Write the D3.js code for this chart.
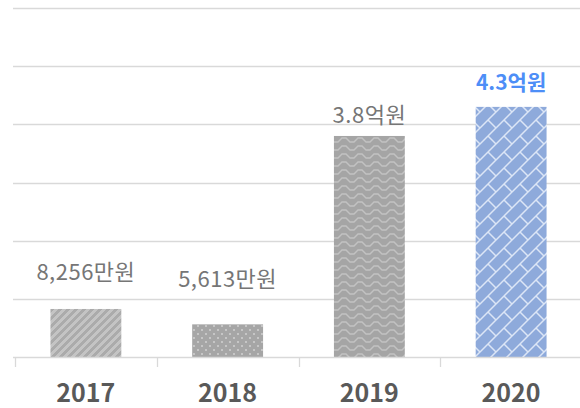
<!doctype html>
<html lang="ko">
<head>
    <meta charset="UTF-8">
    <title>연도별 금액</title>
    <script src="https://d3js.org/d3.v7.min.js"></script>
    <style>
      body { margin: 0; background: #fff; }
      svg { display: block; }
    </style>
</head>
<body>
    <div id="chart"></div>

    <script>

      // Data (values in 억원)
      const years = ['2017', '2018', '2019', '2020'];
      const values = [0.8256, 0.5613, 3.8, 4.3];
      const valueLabels = ['8,256만원', '5,613만원', '3.8억원', '4.3억원'];
      const yTicks = [0, 1, 2, 3, 4, 5, 6];

      // label baseline distance above bar top (as placed in the original)
      const labelGap = [29, 37, 13, 17];

      const width = 580;
      const height = 408;

      const svg = d3.select('#chart')
          .append('svg')
          .attr('width', width)
          .attr('height', height);

      const x = d3.scaleBand()
          .domain(years)
          .range([15, 582])
          .paddingInner(0.5)
          .paddingOuter(0.25);

      const y = d3.scaleLinear()
          .domain([0, 6])
          .range([357, 8]);

      // Patterns
      const defs = svg.append('defs');

      // 2017 - wide upward diagonal
      const p1 = defs.append('pattern')
          .attr('id', 'pat0')
          .attr('patternUnits', 'userSpaceOnUse')
          .attr('width', 8).attr('height', 8);
      p1.append('rect').attr('width', 8).attr('height', 8).attr('fill', '#c4c4c4');
      for (let i = 0; i < 8; i++) {
        // staircase band rising to the right
        const row = 7 - i;
        for (let k = 0; k < 4; k++) {
          p1.append('rect')
              .attr('x', (i + k) % 8).attr('y', row)
              .attr('width', 1).attr('height', 1)
              .attr('fill', '#ababab');
        }
      }

      // 2018 - dots
      const p2 = defs.append('pattern')
          .attr('id', 'pat1')
          .attr('patternUnits', 'userSpaceOnUse')
          .attr('width', 8).attr('height', 8);
      p2.append('rect').attr('width', 8).attr('height', 8).attr('fill', '#a6a6a6');
      p2.append('rect').attr('x', 1).attr('y', 1).attr('width', 2).attr('height', 2).attr('fill', '#c6c6c6');
      p2.append('rect').attr('x', 5).attr('y', 5).attr('width', 2).attr('height', 2).attr('fill', '#c6c6c6');

      // 2019 - wave
      const p3 = defs.append('pattern')
          .attr('id', 'pat2')
          .attr('patternUnits', 'userSpaceOnUse')
          .attr('width', 16).attr('height', 8);
      p3.append('rect').attr('width', 16).attr('height', 8).attr('fill', '#a5a5a5');
      p3.append('path')
          .attr('d', 'M0,6 L2,6 L6,2 L10,2 L14,6 L16,6')
          .attr('fill', 'none')
          .attr('stroke', '#c2c2c2')
          .attr('stroke-width', 1.4);

      // 2020 - diagonal brick
      const p4 = defs.append('pattern')
          .attr('id', 'pat3')
          .attr('patternUnits', 'userSpaceOnUse')
          .attr('width', 16).attr('height', 16);
      p4.append('rect').attr('width', 16).attr('height', 16).attr('fill', '#8eaadb');
      p4.append('path')
          .attr('d', 'M-1,17 L17,-1 M8,8 L16,16 M-2,2 L2,-2 M14,18 L18,14')
          .attr('fill', 'none')
          .attr('stroke', '#dce6f6')
          .attr('stroke-width', 1.5);

      // Gridlines
      svg.append('g')
          .selectAll('line')
          .data(yTicks.slice(1))
          .join('line')
          .attr('x1', 13)
          .attr('x2', width)
          .attr('y1', d => Math.round(y(d)) + 0.5)
          .attr('y2', d => Math.round(y(d)) + 0.5)
          .attr('stroke', '#d9d9d9')
          .attr('stroke-width', 1.3);

      // Bars
      svg.append('g')
          .selectAll('rect')
          .data(values)
          .join('rect')
          .attr('x', (d, i) => x(years[i]))
          .attr('y', d => y(d))
          .attr('width', x.bandwidth())
          .attr('height', d => y(0) - y(d))
          .attr('fill', (d, i) => `url(#pat${i})`);

      // x axis line
      svg.append('line')
          .attr('x1', 13).attr('x2', width)
          .attr('y1', Math.round(y(0)) + 0.5).attr('y2', Math.round(y(0)) + 0.5)
          .attr('stroke', '#d9d9d9')
          .attr('stroke-width', 1.3);

      // category boundary ticks
      const bounds = years.map(d => x(d) - x.step() * x.paddingInner() / 2);
      bounds.push(x(years[years.length - 1]) + x.bandwidth() + x.step() * x.paddingInner() / 2);
      svg.append('g')
          .selectAll('line')
          .data(bounds)
          .join('line')
          .attr('x1', d => Math.round(d) + 0.5)
          .attr('x2', d => Math.round(d) + 0.5)
          .attr('y1', y(0))
          .attr('y2', y(0) + 10)
          .attr('stroke', '#d9d9d9')
          .attr('stroke-width', 1.3);

      // Year labels
      svg.append('g')
          .selectAll('text')
          .data(years)
          .join('text')
          .attr('x', d => x(d) + x.bandwidth() / 2)
          .attr('y', 402)
          .attr('text-anchor', 'middle')
          .attr('font-family', '"Noto Sans CJK KR", "Noto Sans", sans-serif')
          .attr('font-weight', 700)
          .attr('font-size', 25)
          .attr('fill', '#595959')
          .text(d => d);

      // Value labels
      svg.append('g')
          .selectAll('text')
          .data(values)
          .join('text')
          .attr('x', (d, i) => x(years[i]) + x.bandwidth() / 2)
          .attr('y', (d, i) => y(d) - labelGap[i])
          .attr('text-anchor', 'middle')
          .attr('font-family', '"Noto Sans CJK KR", "Noto Sans", sans-serif')
          .attr('font-weight', (d, i) => i === 3 ? 700 : 400)
          .attr('font-size', (d, i) => i === 3 ? 21 : 22)
          .attr('letter-spacing', (d, i) => i === 3 ? 0 : 0.5)
          .attr('fill', (d, i) => i === 3 ? '#4d8ef7' : '#767676')
          .text((d, i) => valueLabels[i]);

    </script>

</body>
</html>
